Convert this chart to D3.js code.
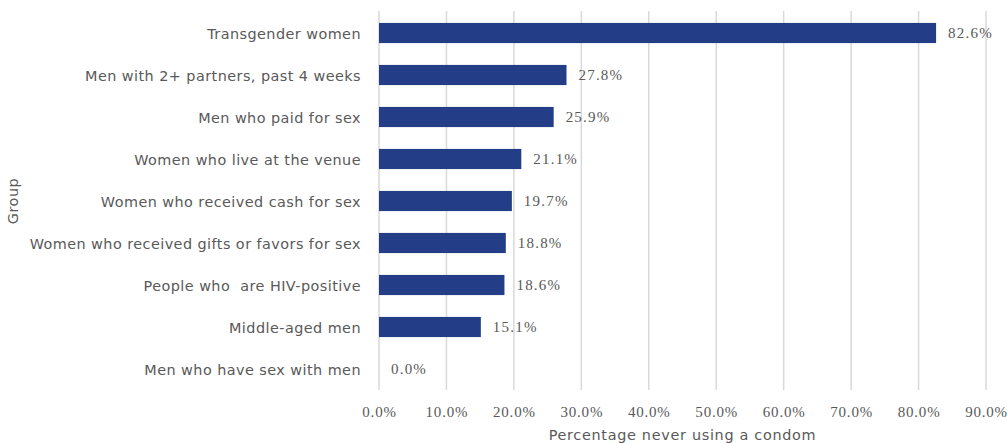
<!DOCTYPE html>
<html>
<head>
<meta charset="utf-8">
<script src="https://cdn.jsdelivr.net/npm/d3@7"></script>
<style>
  html, body { margin: 0; padding: 0; background: #fff; }
  svg { display: block; }
</style>
</head>
<body>
<svg id="chart" width="1007" height="443"></svg>
<script>
// Share of each group reporting they never use a condom
const groups = [
  "Transgender women",
  "Men with 2+ partners, past 4 weeks",
  "Men who paid for sex",
  "Women who live at the venue",
  "Women who received cash for sex",
  "Women who received gifts or favors for sex",
  "People who  are HIV-positive",
  "Middle-aged men",
  "Men who have sex with men"
];
const neverCondom = [82.6, 27.8, 25.9, 21.1, 19.7, 18.8, 18.6, 15.1, 0.0];
const xTicks = [0, 10, 20, 30, 40, 50, 60, 70, 80, 90];

const svg = d3.select("#chart");
const margin = { left: 379, right: 21, top: 12, bottom: 53 };
const W = 1007, H = 443;

const x = d3.scaleLinear().domain([0, 90]).range([margin.left, W - margin.right]);
const y = d3.scaleBand().domain(groups).range([margin.top, H - margin.bottom]).paddingInner(0.52).paddingOuter(0.26);

const labelFont = "'DejaVu Sans', sans-serif";
const numFont = "'Liberation Serif', 'Times New Roman', serif";
const textColor = "#595959";

// vertical gridlines
svg.append("g")
  .selectAll("line")
  .data(xTicks)
  .join("line")
  .attr("x1", d => x(d)).attr("x2", d => x(d))
  .attr("y1", margin.top - 1).attr("y2", H - margin.bottom)
  .attr("stroke", "#d9d9d9")
  .attr("stroke-width", 1.5);

// bottom axis (labels only)
const xAxis = svg.append("g")
  .attr("transform", `translate(0,${H - margin.bottom})`)
  .call(d3.axisBottom(x).tickValues(xTicks).tickSize(0).tickPadding(16)
    .tickFormat(d => d.toFixed(1) + "%"));
xAxis.select(".domain").remove();
xAxis.selectAll("text")
  .attr("fill", textColor)
  .style("font-family", numFont)
  .style("font-size", "15px")
  .style("letter-spacing", "0.8px");

// left axis (category labels)
const yAxis = svg.append("g")
  .attr("transform", `translate(${margin.left},0)`)
  .call(d3.axisLeft(y).tickSize(0).tickPadding(18));
yAxis.select(".domain").remove();
yAxis.selectAll("text")
  .attr("fill", textColor)
  .attr("dy", "0.42em")
  .style("font-family", labelFont)
  .style("font-size", "14.4px")
  .style("letter-spacing", "0.45px")
  .style("white-space", "pre");

// bars
svg.append("g")
  .selectAll("rect")
  .data(groups)
  .join("rect")
  .attr("x", x(0))
  .attr("y", d => y(d))
  .attr("width", (d, i) => x(neverCondom[i]) - x(0))
  .attr("height", y.bandwidth())
  .attr("fill", "#233e86");

// value labels
svg.append("g")
  .selectAll("text")
  .data(groups)
  .join("text")
  .attr("x", (d, i) => x(neverCondom[i]) + 12)
  .attr("y", d => y(d) + y.bandwidth() / 2)
  .attr("dy", "0.36em")
  .attr("fill", textColor)
  .style("font-family", numFont)
  .style("font-size", "15px")
  .style("letter-spacing", "1.2px")
  .text((d, i) => neverCondom[i].toFixed(1) + "%");

// axis titles
svg.append("text")
  .attr("x", (x(0) + x(90)) / 2)
  .attr("y", 439.5)
  .attr("text-anchor", "middle")
  .attr("fill", textColor)
  .style("font-family", labelFont)
  .style("font-size", "14.4px")
  .style("letter-spacing", "0.7px")
  .text("Percentage never using a condom");

svg.append("text")
  .attr("transform", "translate(17.5,201) rotate(-90)")
  .attr("text-anchor", "middle")
  .attr("fill", textColor)
  .style("font-family", labelFont)
  .style("font-size", "14.4px")
  .style("letter-spacing", "0.5px")
  .text("Group");
</script>
</body>
</html>
